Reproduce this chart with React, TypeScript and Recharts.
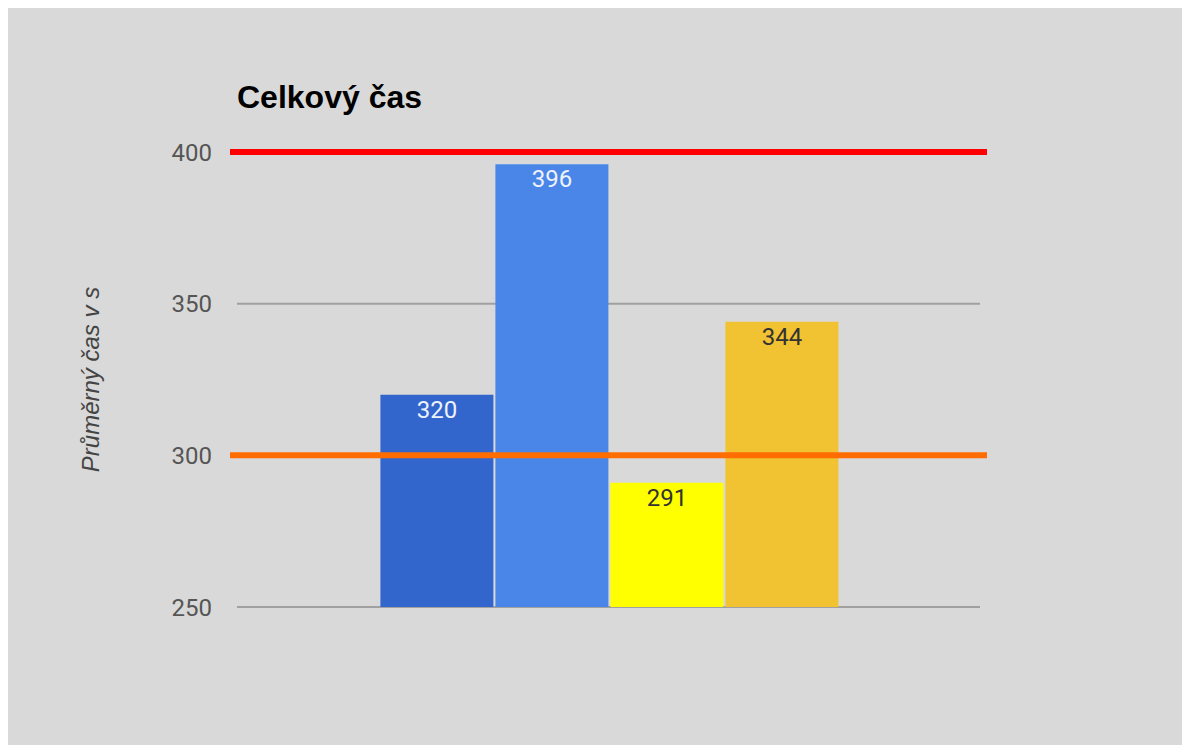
import { BarChart, Bar, XAxis, YAxis, CartesianGrid, ReferenceLine, LabelList } from "recharts";

const categories = ["Celkový čas"];
const seriesNames = ["A", "B", "C", "D"];
const seriesValues = [320, 396, 291, 344];
const seriesColors = ["#3366cc", "#4a86e8", "#ffff00", "#f1c232"];
const labelColors = ["#eef2fb", "#eef2fb", "#333333", "#333333"];
const yTicks = [250, 300, 350, 400];
const limitLines = [
  { value: 400, color: "#ff0000" },
  { value: 300, color: "#ff6d00" },
];

const data = categories.map((name) => {
  const row: Record<string, string | number> = { name };
  seriesNames.forEach((s, i) => {
    row[s] = seriesValues[i];
  });
  return row;
});

// reference lines stick out a little past the plot area
const WideLine = (props: any) => {
  const { x1, x2, y1, y2, stroke } = props;
  return <line x1={x1 - 7} x2={x2 + 7} y1={y1} y2={y2} stroke={stroke} strokeWidth={6} />;
};

export default function App() {
  return (
    <div style={{ position: "relative", width: 1182, height: 737, background: "#d9d9d9" }}>
      <div
        style={{
          position: "absolute",
          left: 229,
          top: 71,
          fontFamily: "'Liberation Sans', Arial, sans-serif",
          fontWeight: "bold",
          fontSize: 32,
          color: "#000",
        }}
      >
        Celkový čas
      </div>
      <BarChart
        width={1182}
        height={737}
        data={data}
        margin={{ top: 144, right: 210, bottom: 138, left: 0 }}
        barCategoryGap="19.3%"
        barGap={2}
      >
        <CartesianGrid vertical={false} stroke="#a0a0a0" strokeWidth={2} />
        <XAxis dataKey="name" hide />
        <YAxis
          width={229}
          domain={[250, 400]}
          ticks={yTicks}
          axisLine={false}
          tickLine={false}
          tickSize={0}
          tickMargin={25}
          tick={{ fill: "#555555", fontSize: 24, fontFamily: "Roboto, sans-serif" }}
          label={{
            value: "Průměrný čas v s",
            angle: -90,
            position: "center",
            dx: -32,
            style: {
              fill: "#444444",
              fontSize: 24,
              fontStyle: "italic",
              fontFamily: "'Liberation Sans', Arial, sans-serif",
            },
          }}
        />
        {seriesNames.map((s, i) => (
          <Bar key={s} dataKey={s} fill={seriesColors[i]} isAnimationActive={false}>
            <LabelList
              dataKey={s}
              position="insideTop"
              offset={6}
              fill={labelColors[i]}
              style={{ fontSize: 24, fontFamily: "Roboto, sans-serif" }}
            />
          </Bar>
        ))}
        {limitLines.map((l) => (
          <ReferenceLine key={l.value} y={l.value} stroke={l.color} shape={WideLine} />
        ))}
      </BarChart>
    </div>
  );
}
